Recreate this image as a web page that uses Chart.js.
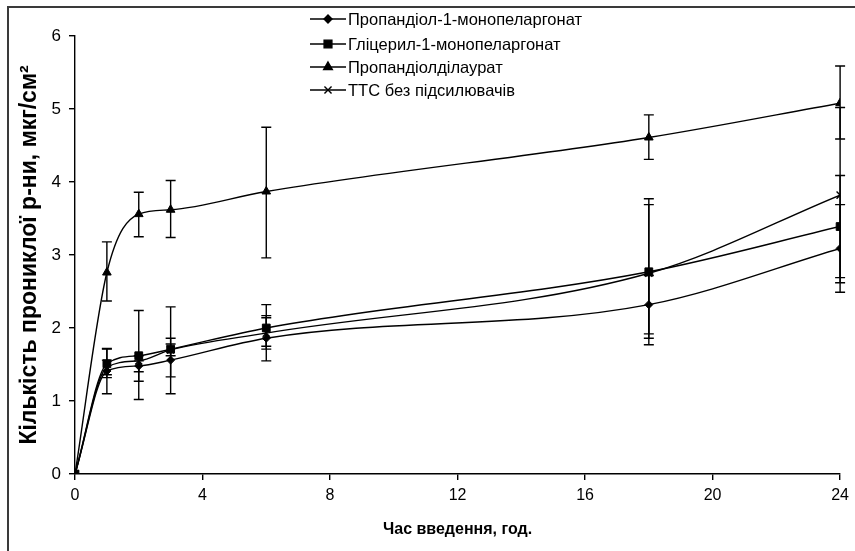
<!DOCTYPE html>
<html>
<head>
<meta charset="utf-8">
<script src="https://cdn.jsdelivr.net/npm/chart.js@4.4.1/dist/chart.umd.min.js"></script>
<style>
  html, body { margin: 0; padding: 0; background: #fff; }
  #wrap { width: 855px; height: 551px; position: relative; }
</style>
</head>
<body>
<div id="wrap"><canvas id="chart" width="855" height="551"></canvas></div>
<script>
const hours = [0, 1, 2, 3, 6, 18, 24];
const seriesNames = ['Пропандіол-1-монопеларгонат', 'Гліцерил-1-монопеларгонат', 'Пропандіолділаурат', 'ТТС без підсилювачів'];

const propMono = [0, 1.41, 1.48, 1.56, 1.86, 2.32, 3.09];
const propMonoHi = [null, 1.72, 1.55, 1.86, 2.17, 2.72, 3.69];
const propMonoLo = [null, 1.10, 1.40, 1.33, 1.55, 1.92, 2.49];

const glycMono = [0, 1.51, 1.62, 1.71, 2.00, 2.77, 3.39];
const glycMonoHi = [null, 1.71, 2.24, 2.29, 2.32, 3.77, 4.09];
const glycMonoLo = [null, 1.32, 1.02, 1.10, 1.75, 1.77, 2.69];

const propDilaur = [0, 2.76, 3.56, 3.62, 3.87, 4.61, 5.08];
const propDilaurHi = [null, 3.18, 3.86, 4.02, 4.75, 4.92, 5.59];
const propDilaurLo = [null, 2.37, 3.25, 3.24, 2.96, 4.31, 4.59];

const ttsPlain = [0, 1.46, 1.55, 1.70, 1.93, 2.75, 3.82];
const ttsPlainHi = [null, 1.56, 1.62, 1.78, 2.14, 3.69, 5.02];
const ttsPlainLo = [null, 1.36, 1.27, 1.62, 1.71, 1.86, 2.62];

const xTicks = [0, 4, 8, 12, 16, 20, 24];
const yTicks = [0, 1, 2, 3, 4, 5, 6];

const FONT = 'Liberation Sans, Arial, sans-serif';

function points(values) {
  return hours.map((h, i) => ({ x: h, y: values[i] }));
}

function makeSet(label, values, hi, lo, style, radius) {
  return {
    label: label,
    data: points(values),
    errHi: hi,
    errLo: lo,
    borderColor: '#000',
    backgroundColor: '#000',
    borderWidth: 1.4,
    pointStyle: style,
    pointRadius: radius,
    pointBorderWidth: style === 'crossRot' ? 1.4 : 1,
    pointBackgroundColor: '#000',
    pointBorderColor: '#000',
    cubicInterpolationMode: 'monotone',
    fill: false
  };
}

// error bars behind the markers
const errorBarPlugin = {
  id: 'errorBars',
  beforeDatasetsDraw(chart) {
    const ctx = chart.ctx;
    const xs = chart.scales.x, ys = chart.scales.y;
    ctx.save();
    ctx.strokeStyle = '#000';
    ctx.lineWidth = 1.4;
    chart.data.datasets.forEach(ds => {
      hours.forEach((h, i) => {
        if (ds.errHi[i] == null) return;
        const px = xs.getPixelForValue(h);
        const top = ys.getPixelForValue(ds.errHi[i]);
        const bot = ys.getPixelForValue(ds.errLo[i]);
        ctx.beginPath();
        ctx.moveTo(px, top); ctx.lineTo(px, bot);
        ctx.moveTo(px - 5, top); ctx.lineTo(px + 5, top);
        ctx.moveTo(px - 5, bot); ctx.lineTo(px + 5, bot);
        ctx.stroke();
      });
    });
    ctx.restore();
  }
};

// excel style legend: line sample with marker, plus outer frame
const legendPlugin = {
  id: 'lineLegend',
  afterDraw(chart) {
    const ctx = chart.ctx;
    const rows = [19, 44, 67, 90];
    ctx.save();
    ctx.strokeStyle = '#3a3a3a';
    ctx.lineWidth = 2;
    ctx.strokeRect(8, 7, 900, 600);
    ctx.font = '16.5px ' + FONT;
    ctx.textBaseline = 'middle';
    ctx.fillStyle = '#000';
    chart.data.datasets.forEach((ds, i) => {
      const y = rows[i];
      ctx.strokeStyle = '#000';
      ctx.lineWidth = 1.4;
      ctx.beginPath();
      ctx.moveTo(310, y); ctx.lineTo(346, y);
      ctx.stroke();
      Chart.helpers.drawPoint(ctx, {
        pointStyle: ds.pointStyle, radius: ds.pointRadius, rotation: 0, borderWidth: ds.pointBorderWidth
      }, 328, y);
      ctx.fillText(ds.label, 348, y + 1);
    });
    ctx.restore();
  }
};

new Chart(document.getElementById('chart'), {
  type: 'line',
  data: {
    datasets: [
      makeSet(seriesNames[0], propMono, propMonoHi, propMonoLo, 'rectRot', 4),
      makeSet(seriesNames[1], glycMono, glycMonoHi, glycMonoLo, 'rect', 5.5),
      makeSet(seriesNames[2], propDilaur, propDilaurHi, propDilaurLo, 'triangle', 5),
      makeSet(seriesNames[3], ttsPlain, ttsPlainHi, ttsPlainLo, 'crossRot', 5)
    ]
  },
  options: {
    responsive: false,
    animation: false,
    layout: { padding: { left: 0, top: 36, right: 10, bottom: 0 } },
    plugins: { legend: { display: false }, tooltip: { enabled: false } },
    scales: {
      x: {
        type: 'linear',
        min: 0, max: 24,
        afterBuildTicks: s => { s.ticks = xTicks.map(v => ({ value: v })); },
        afterFit: s => { s.height = 77; },
        border: { color: '#000', width: 1.4 },
        grid: { drawOnChartArea: false, color: '#000', lineWidth: 1.4, tickLength: 6 },
        ticks: { color: '#000', font: { family: FONT, size: 16 }, padding: 6, maxRotation: 0 },
        title: {
          display: true, text: 'Час введення, год.', color: '#000',
          font: { family: FONT, size: 16, weight: 'bold' }, padding: { top: 0, bottom: 12 }
        }
      },
      y: {
        type: 'linear',
        min: 0, max: 6,
        afterBuildTicks: s => { s.ticks = yTicks.map(v => ({ value: v })); },
        afterFit: s => { s.width = 75; },
        border: { color: '#000', width: 1.4 },
        grid: { drawOnChartArea: false, color: '#000', lineWidth: 1.4, tickLength: 6 },
        ticks: { color: '#000', font: { family: FONT, size: 17 }, padding: 8 },
        title: {
          display: true, text: 'Кількість прониклої р-ни, мкг/см²', color: '#000',
          font: { family: FONT, size: 23, weight: 'bold' }, padding: { top: 16, bottom: 0 }
        }
      }
    }
  },
  plugins: [errorBarPlugin, legendPlugin]
});
</script>
</body>
</html>
